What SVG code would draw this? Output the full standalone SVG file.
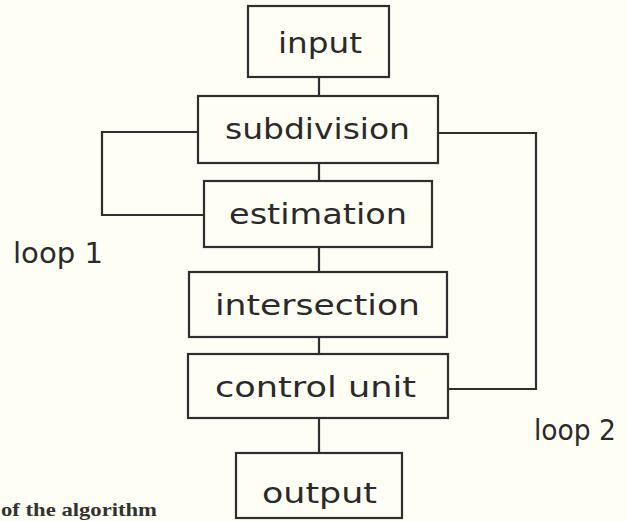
<svg xmlns="http://www.w3.org/2000/svg" width="627" height="521" viewBox="0 0 627 521">
<style>
.box{fill:none;stroke:#2e2e2e;stroke-width:2.2}
.lbl{font-family:"DejaVu Sans","Liberation Sans",sans-serif;font-size:29px;fill:#2a2a2a;text-anchor:start}
.con{fill:none;stroke:#2e2e2e;stroke-width:2.2}
.cap{font-family:"Liberation Serif","Times New Roman",serif;font-size:19px;font-weight:bold;fill:#333}
</style>
<rect width="627" height="521" fill="#fefef5"/>
<g id="connectors">
<line class="con" x1="319" y1="77" x2="319" y2="96"/>
<line class="con" x1="319" y1="163" x2="319" y2="181"/>
<line class="con" x1="319" y1="247" x2="319" y2="272"/>
<line class="con" x1="319" y1="337" x2="319" y2="354"/>
<line class="con" x1="319" y1="418" x2="319" y2="453"/>
<polyline class="con" points="198,132 102,132 102,215 204,215"/>
<polyline class="con" points="438,133 536,133 536,389 448,389"/>
</g>
<g id="input">
<rect class="box" x="248" y="6" width="141" height="71"/>
<text class="lbl" x="278" y="53" textLength="84" lengthAdjust="spacingAndGlyphs">input</text>
</g>
<g id="subdivision">
<rect class="box" x="198" y="96" width="240" height="67"/>
<text class="lbl" x="225" y="139" textLength="185" lengthAdjust="spacingAndGlyphs">subdivision</text>
</g>
<g id="estimation">
<rect class="box" x="204" y="181" width="228" height="66"/>
<text class="lbl" x="229" y="224" textLength="178" lengthAdjust="spacingAndGlyphs">estimation</text>
</g>
<g id="intersection">
<rect class="box" x="189" y="272" width="258" height="65"/>
<text class="lbl" x="215" y="315" textLength="205" lengthAdjust="spacingAndGlyphs">intersection</text>
</g>
<g id="control-unit">
<rect class="box" x="188" y="354" width="260" height="64"/>
<text class="lbl" x="215" y="397" textLength="201" lengthAdjust="spacingAndGlyphs">control unit</text>
</g>
<g id="output">
<rect class="box" x="236" y="453" width="166" height="65"/>
<text class="lbl" x="262" y="503" textLength="115" lengthAdjust="spacingAndGlyphs">output</text>
</g>
<g id="loop-labels">
<text class="lbl" x="534" y="440" textLength="82" lengthAdjust="spacingAndGlyphs">loop 2</text>
<text class="lbl" x="13" y="263" textLength="90" lengthAdjust="spacingAndGlyphs">loop 1</text>
</g>
<text class="cap" x="1" y="516" textLength="156" lengthAdjust="spacingAndGlyphs">of the algorithm</text>
</svg>
